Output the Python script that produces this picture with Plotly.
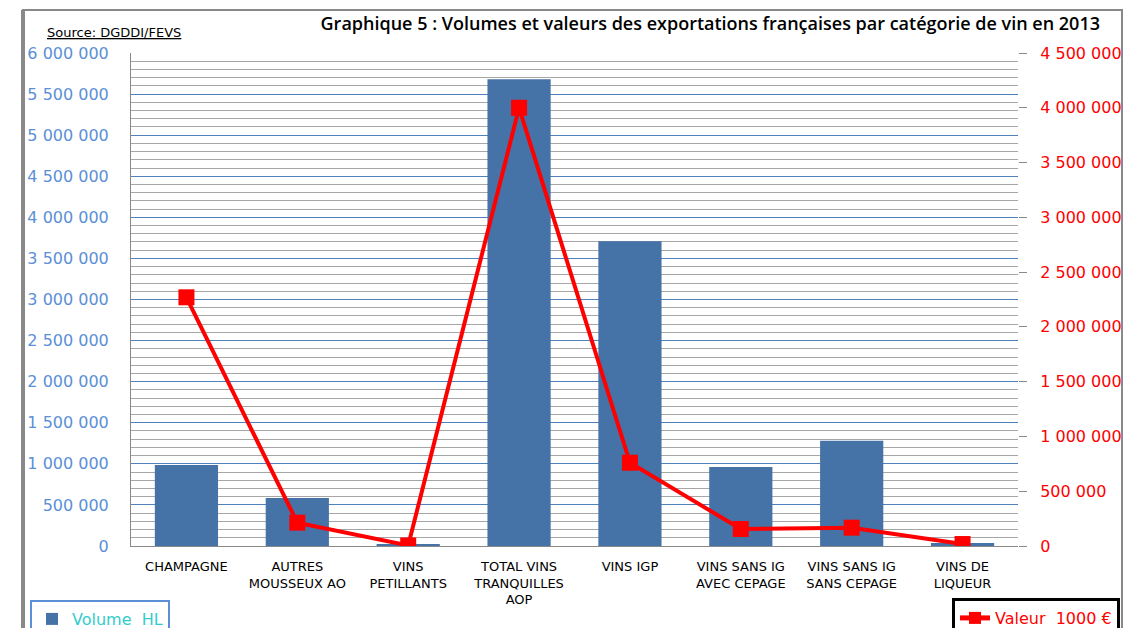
import plotly.graph_objects as go

categories = ["CHAMPAGNE", "AUTRES<br>MOUSSEUX AO", "VINS<br>PETILLANTS",
              "TOTAL VINS<br>TRANQUILLES<br>AOP", "VINS IGP",
              "VINS SANS IG<br>AVEC CEPAGE", "VINS SANS IG<br>SANS CEPAGE",
              "VINS DE<br>LIQUEUR"]
volume_hl = [985000, 585000, 16000, 5680000, 3710000, 960000, 1280000, 36000]
valeur_k_eur = [2270000, 213000, 5000, 4000000, 760000, 155000, 167000, 18000]

W, H = 1125, 628
L, R, T, B = 131, 1018, 53, 546   # plot area in screenshot pixels


def px(x):
    return (x - L) / (R - L)


def py(y):
    return (B - y) / (B - T)


fig = go.Figure()
fig.add_trace(go.Bar(
    x=categories, y=volume_hl, name="Volume  HL",
    marker=dict(color="#4572A7", line=dict(width=0)),
    yaxis="y", legend="legend",
))
fig.add_trace(go.Scatter(
    x=categories, y=valeur_k_eur, name="Valeur  1000 €",
    mode="lines+markers",
    line=dict(color="#FF0000", width=4),
    marker=dict(symbol="square", size=16, color="#FF0000"),
    yaxis="y2", legend="legend2",
))

fig.update_layout(
    width=W, height=H,
    margin=dict(l=L, r=W - R, t=T, b=H - B, autoexpand=False),
    paper_bgcolor="white", plot_bgcolor="white",
    separators=", ",
    bargap=0.43,
    font=dict(family="DejaVu Sans", color="black"),
    title=dict(
        text="Graphique 5 : Volumes et valeurs des exportations françaises par catégorie de vin en 2013",
        xref="container", yref="container",
        x=1100 / W, xanchor="right", y=1 - 24 / H, yanchor="middle",
        font=dict(family="Open Sans", size=18, color="black", weight=600),
    ),
    xaxis=dict(
        showline=True, linecolor="#898989", linewidth=1,
        ticks="", showgrid=False, automargin=False, ticklabelstandoff=8,
        tickfont=dict(size=13, color="black", family="DejaVu Sans"),
    ),
    yaxis=dict(
        range=[0, 6000000], dtick=500000, tickformat=",",
        showgrid=True, gridcolor="#4F81BD", gridwidth=1,
        minor=dict(dtick=100000, showgrid=True, gridcolor="#A6A6A6", gridwidth=1),
        showline=True, linecolor="#898989", linewidth=1,
        ticks="", ticklabelstandoff=18, automargin=False,
        tickfont=dict(size=16, color="#5B8FD6", family="DejaVu Sans"),
        zeroline=False,
    ),
    yaxis2=dict(
        range=[0, 4500000], dtick=500000, tickformat=",",
        overlaying="y", side="right", showgrid=False, zeroline=False,
        showline=False, ticks="outside", ticklen=8, tickcolor="#898989",
        ticklabelstandoff=10, automargin=False,
        tickfont=dict(size=16, color="#FF0000", family="DejaVu Sans"),
    ),
    legend=dict(
        x=px(30), y=py(600), xanchor="left", yanchor="top",
        bgcolor="white", bordercolor="#5B8FD6", borderwidth=2,
        font=dict(size=16, color="#33CCCC", family="DejaVu Sans"),
        orientation="h",
    ),
    legend2=dict(
        x=px(952), y=py(598), xanchor="left", yanchor="top",
        bgcolor="white", bordercolor="black", borderwidth=3,
        font=dict(size=16, color="#FF0000", family="DejaVu Sans"),
        orientation="h", itemsizing="constant",
    ),
    showlegend=True,
)

fig.add_annotation(
    text="<u>Source: DGDDI/FEVS</u>", xref="paper", yref="paper",
    x=px(45), y=py(32), xanchor="left", yanchor="middle", showarrow=False,
    font=dict(size=13, color="black", family="DejaVu Sans"),
)

fig.add_shape(type="rect", xref="paper", yref="paper",
              x0=px(23), x1=px(1122), y0=py(660), y1=py(10),
              line=dict(color="#898989", width=2), layer="below")
fig.add_shape(type="line", xref="paper", yref="paper",
              x0=px(23), x1=px(23), y0=py(660), y1=py(10),
              line=dict(color="#898989", width=4))

fig.write_html(
    "out.html",
    config={"displayModeBar": False},
    post_script="document.body.style.margin='0';document.body.style.overflow='hidden';",
)
